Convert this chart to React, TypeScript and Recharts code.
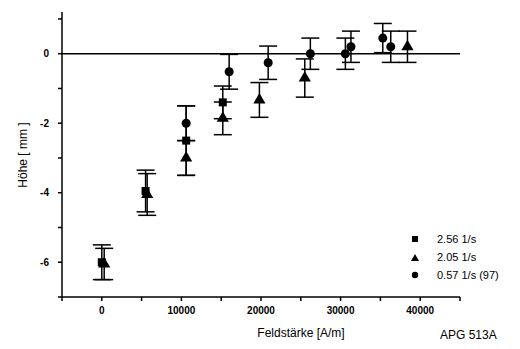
import {
  ScatterChart,
  Scatter,
  XAxis,
  YAxis,
  ZAxis,
  ErrorBar,
  ReferenceLine,
} from "recharts";

// Feldstärke [A/m] / Höhe [mm]
const squareX = [0, 5500, 10600, 15200];
const squareY = [-6.0, -3.95, -2.5, -1.4];
const squareErr = [0.5, 0.6, 1.0, 0.47];

const triangleX = [300, 5700, 10600, 15200, 19800, 25500, 38400];
const triangleY = [-6.05, -4.05, -3.0, -1.86, -1.33, -0.7, 0.2];
const triangleErr = [0.45, 0.6, 0.5, 0.47, 0.5, 0.55, 0.45];

const circleX = [10600, 16000, 20900, 26200, 30600, 31300, 35300, 36300];
const circleY = [-2.0, -0.52, -0.26, 0, 0, 0.2, 0.45, 0.2];
const circleErr = [0.5, 0.5, 0.48, 0.45, 0.45, 0.45, 0.42, 0.45];

const xTicks = [-5000, 0, 5000, 10000, 15000, 20000, 25000, 30000, 35000, 40000, 45000];
const yTicks = [-7, -6, -5, -4, -3, -2, -1, 0, 1];

const legendNames = ["2.56 1/s", "2.05 1/s", "0.57 1/s (97)"];

const toPoints = (xs: number[], ys: number[], errs: number[]) =>
  xs.map((x, i) => ({ x, y: ys[i], err: errs[i] }));

const squares = toPoints(squareX, squareY, squareErr);
const triangles = toPoints(triangleX, triangleY, triangleErr);
const circles = toPoints(circleX, circleY, circleErr);

const font = "'Liberation Sans', Arial, sans-serif";
const tickStyle = { fill: "#000", fontSize: 10, fontWeight: "bold", fontFamily: font };

export default function App() {
  return (
    <div style={{ position: "absolute", left: 0, top: 0, width: 520, height: 349, background: "#fff" }}>
      <ScatterChart width={520} height={349} margin={{ top: 12, right: 60, left: 0, bottom: 0 }}>
        <XAxis
          type="number"
          dataKey="x"
          domain={[-5000, 45000]}
          ticks={xTicks}
          allowDataOverflow
          height={52}
          stroke="#000"
          strokeWidth={1.5}
          tickSize={4}
          tickMargin={6}
          tick={tickStyle}
          tickFormatter={(v: number) => (v % 10000 === 0 ? String(v) : "")}
        />
        <YAxis
          type="number"
          dataKey="y"
          domain={[-7, 1.2]}
          ticks={yTicks}
          allowDataOverflow
          width={62}
          stroke="#000"
          strokeWidth={1.5}
          tickSize={4}
          tickMargin={9}
          tick={tickStyle}
          tickFormatter={(v: number) => (v % 2 === 0 ? String(v) : "")}
        />
        <ZAxis range={[55, 55]} />
        <ReferenceLine y={0} stroke="#000" strokeWidth={1.5} />
        <Scatter name={legendNames[0]} data={squares} shape="square" fill="#000" isAnimationActive={false}>
          <ErrorBar dataKey="err" direction="y" width={9} stroke="#000" strokeWidth={1.5} />
        </Scatter>
        <Scatter name={legendNames[1]} data={triangles} shape="triangle" fill="#000" isAnimationActive={false}>
          <ErrorBar dataKey="err" direction="y" width={9} stroke="#000" strokeWidth={1.5} />
        </Scatter>
        <Scatter name={legendNames[2]} data={circles} shape="circle" fill="#000" isAnimationActive={false}>
          <ErrorBar dataKey="err" direction="y" width={9} stroke="#000" strokeWidth={1.5} />
        </Scatter>
      </ScatterChart>
      <svg
        width={520}
        height={349}
        style={{ position: "absolute", left: 0, top: 0, pointerEvents: "none" }}
        fontFamily={font}
        fill="#000"
      >
        <text
          x={23}
          y={155}
          transform="rotate(-90 23 155)"
          textAnchor="middle"
          dominantBaseline="central"
          fontSize={12}
          fill="#000"
        >
          Höhe [ mm ]
        </text>
        <text x={301} y={333} textAnchor="middle" dominantBaseline="central" fontSize={12} fill="#000">
          Feldstärke [A/m]
        </text>
        <text x={440} y={335} dominantBaseline="central" fontSize={12} fill="#000">
          APG 513A
        </text>
        <g fontSize={11} fill="#000">
          <rect x={412} y={236} width={6} height={6} fill="#000" />
          <text x={437} y={239} dominantBaseline="central">{legendNames[0]}</text>
          <path d="M415 254 L419 261 L411 261 Z" fill="#000" />
          <text x={437} y={257} dominantBaseline="central">{legendNames[1]}</text>
          <circle cx={415} cy={275} r={3.2} fill="#000" />
          <text x={437} y={275} dominantBaseline="central">{legendNames[2]}</text>
        </g>
      </svg>
    </div>
  );
}
